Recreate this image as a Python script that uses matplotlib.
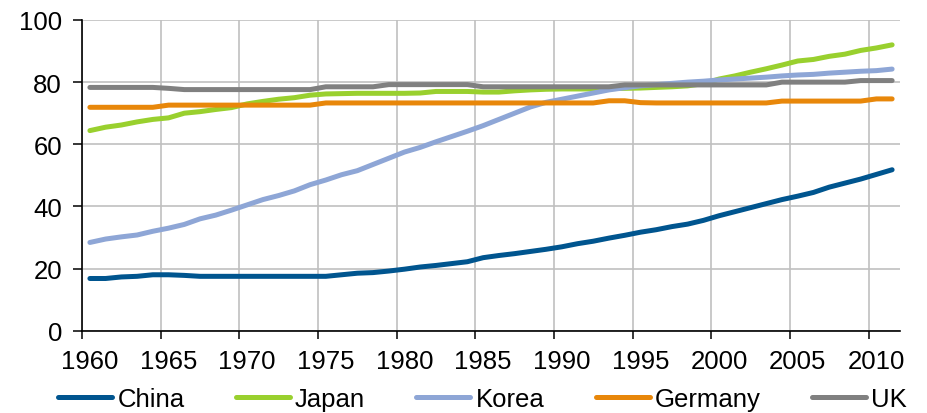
import numpy as np
import matplotlib.pyplot as plt

plt.rcParams['font.family'] = ['Liberation Sans', 'DejaVu Sans']

years = np.arange(1960, 2012)

china = [16.8, 16.8, 17.3, 17.5, 18.0, 18.0, 17.8, 17.5, 17.5, 17.5,
         17.5, 17.5, 17.5, 17.5, 17.5, 17.5, 18.0, 18.5, 18.7, 19.2,
         19.8, 20.5, 21.0, 21.6, 22.2, 23.5, 24.2, 24.8, 25.5, 26.2,
         27.0, 28.0, 28.8, 29.8, 30.7, 31.7, 32.5, 33.5, 34.3, 35.5,
         37.0, 38.3, 39.6, 40.9, 42.2, 43.3, 44.5, 46.2, 47.5, 48.8,
         50.3, 51.8]
japan = [64.4, 65.5, 66.2, 67.2, 68.0, 68.5, 70.0, 70.5, 71.2, 71.8,
         73.0, 73.8, 74.5, 75.0, 75.8, 76.2, 76.3, 76.4, 76.4, 76.4,
         76.4, 76.5, 77.0, 77.0, 77.0, 76.8, 76.8, 77.2, 77.5, 77.7,
         77.8, 77.8, 77.8, 77.9, 78.0, 78.1, 78.3, 78.5, 78.8, 79.5,
         81.0, 82.0, 83.2, 84.3, 85.5, 86.8, 87.3, 88.3, 89.0, 90.2,
         91.0, 92.0]
korea = [28.4, 29.5, 30.2, 30.8, 32.0, 33.0, 34.2, 36.0, 37.2, 38.8,
         40.5, 42.2, 43.5, 45.0, 47.0, 48.5, 50.2, 51.5, 53.5, 55.5,
         57.5, 59.0, 60.8, 62.5, 64.2, 66.0, 68.0, 70.0, 72.0, 73.5,
         74.5, 75.5, 76.5, 77.5, 78.2, 78.8, 79.2, 79.6, 80.0, 80.3,
         80.7, 81.0, 81.3, 81.6, 82.0, 82.3, 82.5, 82.9, 83.2, 83.5,
         83.7, 84.2]
germany = [71.9, 71.9, 71.9, 71.9, 71.9, 72.6, 72.6, 72.6, 72.6, 72.6,
           72.6, 72.6, 72.6, 72.6, 72.6, 73.3, 73.3, 73.3, 73.3, 73.3,
           73.3, 73.3, 73.3, 73.3, 73.3, 73.3, 73.3, 73.3, 73.3, 73.3,
           73.3, 73.3, 73.3, 74.0, 74.0, 73.4, 73.3, 73.3, 73.3, 73.3,
           73.3, 73.3, 73.3, 73.3, 73.9, 73.9, 73.9, 73.9, 73.9, 73.9,
           74.6, 74.6]
uk = [78.3, 78.3, 78.3, 78.3, 78.3, 78.0, 77.6, 77.6, 77.6, 77.6,
      77.6, 77.6, 77.6, 77.6, 77.6, 78.5, 78.5, 78.5, 78.5, 79.2,
      79.2, 79.2, 79.2, 79.2, 79.2, 78.5, 78.5, 78.5, 78.5, 78.5,
      78.5, 78.5, 78.5, 78.5, 79.1, 79.1, 79.1, 79.1, 79.1, 79.1,
      79.1, 79.1, 79.1, 79.1, 80.0, 80.0, 80.0, 80.0, 80.0, 80.5,
      80.5, 80.5]

names = ['China', 'Japan', 'Korea', 'Germany', 'UK']
colors = ['#00558f', '#99d02e', '#8ea6d6', '#e8870a', '#808080']
series = [china, japan, korea, germany, uk]

fig = plt.figure(figsize=(9.28, 4.14), dpi=100)
ax = fig.add_axes([0.0884, 0.1988, 0.8814, 0.7505])

for name, vals, c in zip(names, series, colors):
    ax.plot(years, vals, color=c, lw=3.6, label=name,
            solid_capstyle='round', solid_joinstyle='round')

ax.set_xlim(1959.5, 2011.5)
ax.set_ylim(0, 100)

# category boundaries carry the ticks and gridlines, labels sit on the years
ax.set_xticks(np.arange(1959.5, 2010, 5))
ax.set_xticklabels([])
ax.set_xticks(np.arange(1960, 2011, 5), minor=True)
ax.set_xticklabels([str(y) for y in range(1960, 2011, 5)], minor=True)
ax.tick_params(axis='x', which='minor', length=0, pad=13, labelsize=18.5)
ax.tick_params(axis='x', which='major', length=6, width=1.1, direction='out')
ax.set_yticks(np.arange(0, 101, 20))
ax.tick_params(axis='y', length=6.5, width=1.1, pad=8, labelsize=18.5)

ax.grid(True, which='major', color='#c0c0c0', lw=1.2)
ax.set_axisbelow(True)
for s in ['top', 'right']:
    ax.spines[s].set_visible(False)
for s in ['left', 'bottom']:
    ax.spines[s].set_linewidth(1.2)

fig.legend(loc='center', bbox_to_anchor=(0.52, 0.034), ncol=5, frameon=False,
           fontsize=18.5, handlelength=2.1, handletextpad=0.2,
           columnspacing=2.0, borderpad=0)

plt.savefig('out.png', dpi=100)
